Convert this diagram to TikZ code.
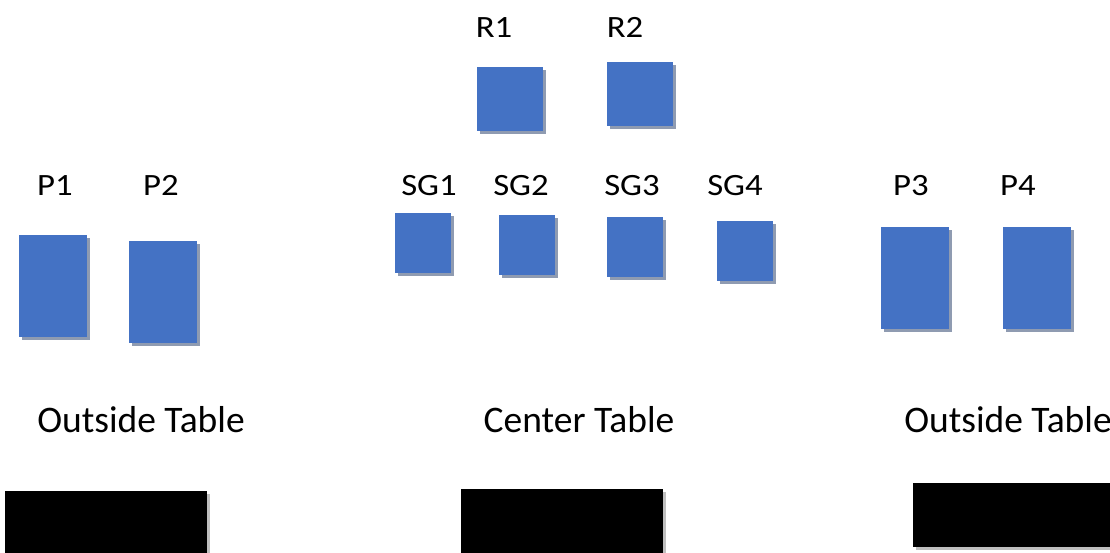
\documentclass[tikz,border=0pt]{standalone}
\usepackage{fontspec}
\setmainfont{Carlito}
\newfontfamily\tagfont[FakeStretch=1.12]{Carlito}
\usetikzlibrary{shadows}
\definecolor{boxblue}{HTML}{4472C4}
\definecolor{boxshade}{HTML}{8F9BB1}
\definecolor{barshade}{HTML}{BFBFBF}
\tikzset{
  bluebox/.style={
    % The shape:
    rectangle,
    anchor=north west,
    inner sep=0pt,
    % The filling:
    fill=boxblue,
    drop shadow={shadow xshift=3pt,shadow yshift=-3pt,fill=boxshade,opacity=1}},
  blackbox/.style={
    % The shape:
    rectangle,
    anchor=north west,
    inner sep=0pt,
    minimum width=202pt, minimum height=70pt,
    % The filling:
    fill=black,
    drop shadow={shadow xshift=3pt,shadow yshift=-3pt,fill=barshade,opacity=1}},
  tag/.style={anchor=base,inner sep=0pt,font=\tagfont\fontsize{31}{34}\selectfont},
  caption/.style={anchor=base,inner sep=0pt,font=\fontsize{37.5}{42}\selectfont}
}

\begin{document}
\begin{tikzpicture}[x=1pt,y=-1pt,
                    post/.style={bluebox,minimum width=68pt,minimum height=102pt},
                    router/.style={bluebox,minimum width=66pt,minimum height=64pt},
                    seat/.style={bluebox,minimum width=56pt,minimum height=60pt}]
  \useasboundingbox (0,0) rectangle (1110,552);

  % Top row:
  \node (R1) [router] at (477,67)  {};
  \node (R2) [router] at (607,62)  {};
  \node (R1tag) [tag] at (494,37) {R1};
  \node (R2tag) [tag] at (625,37) {R2};

  % Middle row:
  \node (P1)  [post] at (19,235)  {};
  \node (P2)  [post] at (129,241) {};
  \node (SG1) [seat] at (395,213) {};
  \node (SG2) [seat] at (499,215) {};
  \node (SG3) [seat] at (607,217) {};
  \node (SG4) [seat] at (717,221) {};
  \node (P3)  [post] at (881,227) {};
  \node (P4)  [post] at (1003,227) {};

  \node (P1tag)  [tag] at (55,195)   {P1};
  \node (P2tag)  [tag] at (161,195)  {P2};
  \node (SG1tag) [tag] at (429,195)  {SG1};
  \node (SG2tag) [tag] at (521,195)  {SG2};
  \node (SG3tag) [tag] at (632,195)  {SG3};
  \node (SG4tag) [tag] at (735,195)  {SG4};
  \node (P3tag)  [tag] at (911,195)  {P3};
  \node (P4tag)  [tag] at (1018,195) {P4};

  % Tables:
  \node (lefttable)   [caption] at (141,432)  {Outside Table};
  \node (centertable) [caption] at (579,432)  {Center Table};
  \node (righttable)  [caption] at (1008,432) {Outside Table};

  \node (leftbar)   [blackbox] at (5,491)   {};
  \node (centerbar) [blackbox] at (461,489) {};
  \node (rightbar)  [blackbox,minimum height=64pt,minimum width=210pt] at (913,483) {};

\end{tikzpicture}
\end{document}
